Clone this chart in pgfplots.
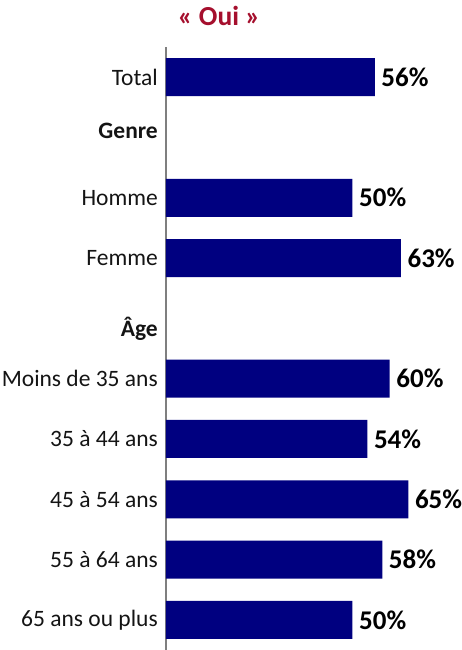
\documentclass[border=0pt]{standalone}
\usepackage{pgfplots}
\pgfplotsset{compat=1.18}
\usepackage{fontspec}
\setmainfont{Carlito}
\definecolor{barblue}{HTML}{000080}
\definecolor{titlered}{HTML}{A50F2D}
\definecolor{axisgray}{HTML}{7F7F7F}
\definecolor{labelgray}{HTML}{141414}
\begin{document}
\begin{tikzpicture}
\begin{axis}[
  at={(0,0)}, anchor=south west,
  scale only axis,
  width=261bp, height=603bp,
  xmin=0, xmax=70,
  ymin=-0.5, ymax=9.5,
  y dir=reverse,
  axis x line=none,
  axis y line=left,
  axis line style={-, draw=axisgray, line width=1.3bp},
  xtick=\empty,
  ytick={0,...,9},
  yticklabels={Total, \raisebox{7bp}[\height][\depth]{\textbf{Genre}}, Homme, Femme,
    \raisebox{-10bp}[\height][\depth]{\textbf{Âge}},
    Moins de 35 ans, 35 à 44 ans, 45 à 54 ans, 55 à 64 ans, 65 ans ou plus},
  major tick length=0pt,
  yticklabel style={anchor=east, inner sep=0pt, xshift=-8bp, text=labelgray,
    font=\fontsize{23.5bp}{28bp}\selectfont},
  xbar,
  bar width=38bp,
  nodes near coords,
  point meta=explicit symbolic,
  nodes near coords style={anchor=west, inner sep=0pt, xshift=6.5bp,
    font=\fontsize{27bp}{32bp}\selectfont\bfseries, text=black},
  clip=false,
]
\addplot[draw=none, fill=barblue] coordinates {
  (56,0)[56\%]
  (50,2)[50\%]
  (63,3)[63\%]
  (60,5)[60\%]
  (54,6)[54\%]
  (65,7)[65\%]
  (58,8)[58\%]
  (50,9)[50\%]
};
\end{axis}
\node[text=titlered, font=\fontsize{27.5bp}{32bp}\selectfont\bfseries] at (53bp,634bp) {« Oui »};
\pgfresetboundingbox
\path[use as bounding box] (-166bp,0) rectangle (296bp,650bp);
\end{tikzpicture}
\end{document}
